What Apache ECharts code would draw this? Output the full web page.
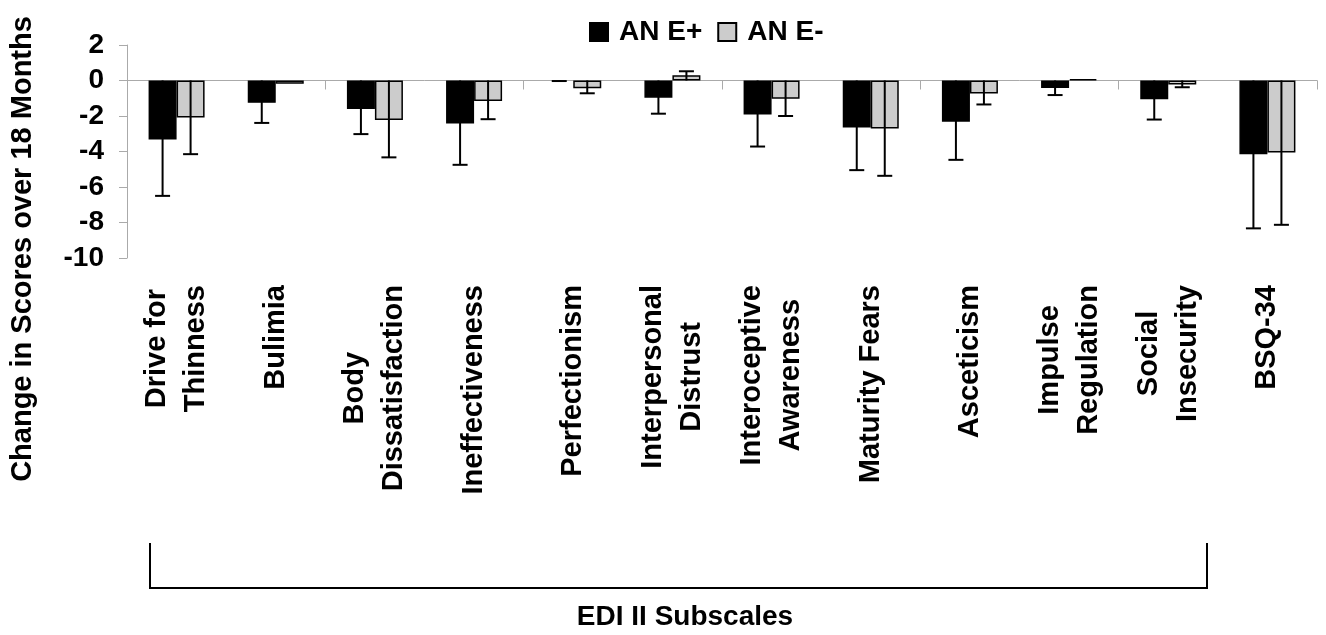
<!DOCTYPE html>
<html>
<head>
<meta charset="utf-8">
<script src="https://cdn.jsdelivr.net/npm/echarts@6/dist/echarts.min.js"></script>
<style>
html,body{margin:0;padding:0;background:#fff;}
#chart{width:1326px;height:635px;}
</style>
</head>
<body>
<div id="chart"></div>
<script>
// ---- data ----
const categories = [
  'Drive for\nThinness', 'Bulimia', 'Body\nDissatisfaction', 'Ineffectiveness',
  'Perfectionism', 'Interpersonal\nDistrust', 'Interoceptive\nAwareness', 'Maturity Fears',
  'Asceticism', 'Impulse\nRegulation', 'Social\nInsecurity', 'BSQ-34'
];
const seriesNames = ['AN E+', 'AN E-'];
const anEPlus      = [-3.33, -1.26, -1.60, -2.42,  0.00, -0.97, -1.92, -2.65, -2.33, -0.42, -1.05, -4.15];
const anEPlusErrEnd  = [-6.50, -2.39, -3.02, -4.75, -0.03, -1.87, -3.72, -5.05, -4.47, -0.82, -2.20, -8.33];
const anEMinus     = [-2.09, -0.18, -2.22, -1.15, -0.43,  0.30, -1.03, -2.70, -0.73,  0.08, -0.22, -4.05];
const anEMinusErrEnd = [-4.15, null, -4.33, -2.18, -0.72,  0.52, -2.00, -5.37, -1.35, null, -0.38, -8.13];
const yTicks = [2, 0, -2, -4, -6, -8, -10];
const yTitle = 'Change in Scores over 18 Months';
const groupTitle = 'EDI II Subscales';

// ---- chart ----
const FONT = 'Liberation Sans, Arial, sans-serif';
const chart = echarts.init(document.getElementById('chart'), null, {renderer: 'canvas'});

function barData(vals) {
  // zero-height bars draw no outline (as in the original)
  return vals.map(v => v === 0 ? {value: v, itemStyle: {borderWidth: 0}} : v);
}
function errData(vals, ends) {
  const out = [];
  vals.forEach((v, i) => { if (ends[i] !== null) out.push([i, v, ends[i]]); });
  return out;
}
function errRender(offset) {
  return function (params, api) {
    const idx = api.value(0);
    const e = api.value(2);
    const p0 = api.coord([idx, 0]);
    const p1 = api.coord([idx, e]);
    const x = p0[0] + offset;
    return {
      type: 'group',
      children: [
        {type: 'line', shape: {x1: x, y1: p0[1], x2: x, y2: p1[1]}, style: {stroke: '#000', lineWidth: 2}},
        {type: 'line', shape: {x1: x - 7.5, y1: p1[1], x2: x + 7.5, y2: p1[1]}, style: {stroke: '#000', lineWidth: 2}}
      ]
    };
  };
}

const option = {
  backgroundColor: '#fff',
  animation: false,
  grid: {left: 127, top: 45, width: 1190, height: 213, containLabel: false},
  legend: {
    data: seriesNames,
    left: 589, top: 18, padding: 0,
    icon: 'rect', itemWidth: 18, itemHeight: 18, itemGap: 15,
    textStyle: {fontSize: 28, fontWeight: 'bold', fontFamily: FONT, color: '#000', padding: [0, 0, 0, 6]}
  },
  xAxis: [
    {
      type: 'category', data: categories, position: 'bottom',
      axisLine: {onZero: true, lineStyle: {color: '#aaaaaa', width: 1}},
      axisTick: {show: true, length: 9, lineStyle: {color: '#aaaaaa'}},
      axisLabel: {show: false},
      splitLine: {show: false}
    },
    {
      type: 'category', data: categories, position: 'bottom',
      axisLine: {show: false, onZero: false},
      axisTick: {show: false},
      splitLine: {show: false},
      axisLabel: {
        interval: 0, rotate: 90, margin: 27,
        formatter: function (v) { return v.split('\n').map(l => '{c|' + l + '}').join('\n'); },
        rich: {c: {align: 'center', fontSize: 29, fontWeight: 'bold', fontFamily: FONT, color: '#000', lineHeight: 39}}
      }
    }
  ],
  yAxis: {
    type: 'value',
    min: Math.min(...yTicks), max: Math.max(...yTicks), interval: yTicks[0] - yTicks[1],
    axisLine: {show: true, lineStyle: {color: '#aaaaaa', width: 1}},
    axisTick: {show: true, length: 8, lineStyle: {color: '#aaaaaa'}},
    splitLine: {show: false},
    axisLabel: {fontSize: 28, fontWeight: 'bold', fontFamily: FONT, color: '#000', margin: 23}
  },
  series: [
    {
      name: seriesNames[0], type: 'bar', xAxisIndex: 0, data: barData(anEPlus),
      barWidth: 28, barGap: '0%',
      itemStyle: {color: '#000000', borderColor: '#000', borderWidth: 1.5}
    },
    {
      name: seriesNames[1], type: 'bar', xAxisIndex: 0, data: barData(anEMinus),
      barWidth: 28, barGap: '0%',
      itemStyle: {color: '#cccccc', borderColor: '#000', borderWidth: 1.5}
    },
    {
      name: 'errPlus', type: 'custom', xAxisIndex: 0, z: 5,
      data: errData(anEPlus, anEPlusErrEnd), encode: {x: 0, y: 2},
      renderItem: errRender(-14)
    },
    {
      name: 'errMinus', type: 'custom', xAxisIndex: 0, z: 5,
      data: errData(anEMinus, anEMinusErrEnd), encode: {x: 0, y: 2},
      renderItem: errRender(14)
    }
  ],
  graphic: [
    {
      type: 'text', x: 23, y: 249, rotation: Math.PI / 2,
      style: {text: yTitle, font: 'bold 29px ' + FONT, fill: '#000', textAlign: 'center', textVerticalAlign: 'middle'}
    },
    {
      type: 'polyline',
      shape: {points: [[150, 543], [150, 588], [1207, 588], [1207, 543]]},
      style: {stroke: '#000', lineWidth: 2, fill: null}
    },
    {
      type: 'text', x: 685, y: 617,
      style: {text: groupTitle, font: 'bold 28px ' + FONT, fill: '#000', textAlign: 'center', textVerticalAlign: 'middle'}
    }
  ]
};
chart.setOption(option);
</script>
</body>
</html>
